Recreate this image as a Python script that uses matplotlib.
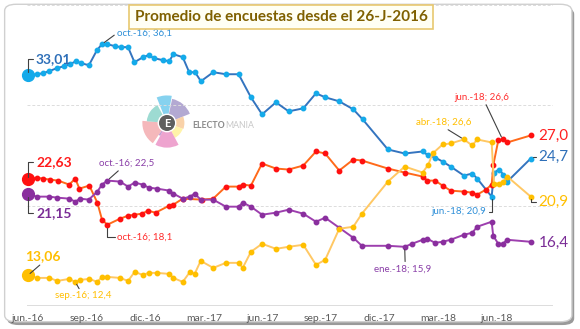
import numpy as np
import matplotlib
matplotlib.use('Agg')
import matplotlib.pyplot as plt
from matplotlib.patches import FancyBboxPatch, Wedge, Circle

plt.rcParams['font.family'] = ['Lato', 'DejaVu Sans']

# =============================================================================
# Data (x = months since jun.-16, y = % vote estimate)
# =============================================================================
tick_labels = ['jun.-16', 'sep.-16', 'dic.-16', 'mar.-17', 'jun.-17',
               'sep.-17', 'dic.-17', 'mar.-18', 'jun.-18']
tick_months = [0, 3, 6, 9, 12, 15, 18, 21, 24]

pp_x = [0.0, 0.46, 0.77, 1.07, 1.48, 1.84, 2.15, 2.46, 2.71, 3.12, 3.53, 3.79,
        4.04, 4.45, 4.76, 5.12, 5.45, 5.89, 6.17, 6.45, 6.91, 7.23, 7.44, 7.92,
        8.25, 8.55, 8.85, 9.48, 10.13, 10.78, 11.41, 11.98, 12.69, 13.34, 14.09,
        14.74, 15.21, 15.93, 16.65, 17.13, 18.42, 19.28, 20.20, 20.49, 20.83,
        21.22, 21.63, 22.31, 22.74, 22.99, 23.73, 23.85, 24.12, 24.32, 24.53,
        25.73]
pp_y = [33.01, 33.1, 33.2, 33.4, 33.7, 33.9, 34.1, 34.4, 34.2, 34.0, 35.5, 36.1,
        36.1, 35.9, 35.8, 35.8, 34.3, 34.8, 35.0, 34.7, 34.5, 34.4, 35.1, 34.8,
        33.3, 33.3, 32.4, 33.3, 33.1, 33.1, 30.8, 29.1, 30.3, 29.4, 29.7,
        31.2, 30.8, 30.4, 29.6, 28.6, 25.6, 25.2, 25.4, 25.0, 24.8,
        24.4, 23.9, 23.0, 23.2, 22.7, 20.9, 23.3, 23.6, 23.1, 22.4,
        24.7]

psoe_x = [0.0, 0.45, 0.75, 1.13, 1.54, 2.11, 2.42, 2.63, 3.14, 3.55, 3.79, 4.06,
          4.71, 5.12, 5.45, 5.83, 6.14, 6.53, 7.23, 7.44, 7.92, 8.90, 9.48,
          10.13, 10.78, 11.00, 11.41, 11.98, 12.69, 13.34, 14.09, 14.74, 15.21,
          15.93, 16.65, 17.09, 18.42, 19.28, 20.20, 20.44, 20.83, 21.22, 21.63,
          22.31, 22.74, 22.99, 23.44, 23.73, 23.82, 24.07, 24.29, 24.53, 25.73]
psoe_y = [22.63, 22.8, 22.7, 22.6, 22.5, 22.1, 22.7, 21.7, 22.0, 20.3, 18.6, 18.1,
          18.7, 19.0, 19.1, 19.2, 19.5, 19.3, 20.0, 20.1, 20.7, 20.6, 20.7,
          21.9, 21.9, 22.1, 22.0, 24.2, 23.7, 23.6, 24.0, 25.4, 25.2,
          23.5, 24.6, 24.5, 23.7, 23.3, 22.9, 22.5, 22.5, 22.0, 21.5,
          21.4, 21.3, 21.1, 21.6, 22.1, 24.1, 26.5, 26.6, 26.3, 27.0]

up_x = [0.0, 0.45, 1.09, 1.50, 2.11, 2.42, 2.66, 3.11, 3.55, 3.79, 4.06, 4.71,
        5.12, 5.46, 5.87, 6.18, 6.59, 7.23, 7.44, 7.92, 8.29, 8.53, 8.84, 9.48,
        10.13, 10.78, 10.99, 11.41, 11.98, 12.69, 13.34, 14.09, 14.74, 15.21,
        15.93, 16.65, 17.09, 18.42, 19.28, 19.65, 20.20, 20.44, 20.83, 21.22,
        21.63, 22.31, 22.74, 22.99, 23.73, 23.81, 24.07, 24.29, 24.53, 25.73]
up_y = [21.15, 20.9, 20.9, 20.8, 20.7, 20.4, 20.7, 20.6, 21.4, 22.1, 22.5, 22.4,
        21.9, 22.3, 22.1, 21.8, 21.7, 21.5, 21.2, 20.7, 20.9, 21.2, 20.6, 20.6,
        19.9, 19.9, 20.3, 19.9, 19.1, 19.3, 19.6, 19.2, 18.4, 18.8,
        17.8, 16.8, 16.0, 16.0, 15.9, 16.2, 16.6, 16.7, 16.3, 16.4,
        16.6, 17.1, 17.3, 17.9, 18.4, 17.0, 16.2, 16.2, 16.6, 16.4]

cs_x = [0.0, 0.45, 1.09, 1.50, 2.11, 2.42, 2.66, 3.14, 3.55, 3.79, 4.06, 4.71,
        5.12, 5.46, 5.87, 6.18, 6.59, 7.23, 7.44, 7.92, 8.29, 8.53, 8.84, 9.48,
        10.13, 10.78, 10.99, 11.41, 11.98, 12.69, 13.34, 14.09, 14.74, 15.21,
        15.93, 16.65, 17.09, 18.42, 19.28, 20.20, 20.49, 20.71, 21.22, 21.63,
        22.31, 22.74, 22.99, 23.73, 23.85, 24.12, 24.32, 24.53, 25.73]
cs_y = [13.06, 12.8, 12.8, 12.5, 12.7, 12.4, 12.6, 12.7, 12.4, 12.9, 12.9, 12.8,
        12.5, 13.4, 13.1, 13.3, 13.3, 13.2, 12.8, 12.4, 13.4, 13.2, 14.5, 13.8,
        14.3, 14.3, 13.8, 15.4, 16.2, 15.7, 15.9, 16.1, 14.1, 14.6,
        17.7, 17.9, 19.2, 22.4, 23.9, 23.3, 24.1, 25.2, 26.1, 26.2,
        26.6, 26.0, 26.6, 26.3, 22.2, 22.2, 22.4, 22.9, 20.9]

# =============================================================================
# Figure
# =============================================================================
fig = plt.figure(figsize=(5.8, 3.29), dpi=100)
fig.patch.set_facecolor('white')

# outer frame with shadow
shadow = FancyBboxPatch((0.012, 0.012), 0.978, 0.965, boxstyle='round,pad=0,rounding_size=0.02',
                        transform=fig.transFigure, facecolor='#9a9a9a', edgecolor='none', zorder=-2)
frame = FancyBboxPatch((0.008, 0.022), 0.978, 0.965, boxstyle='round,pad=0,rounding_size=0.02',
                       transform=fig.transFigure, facecolor='white', edgecolor='#d0d0d0',
                       lw=1.0, zorder=-1)
fig.patches.extend([shadow, frame])

ax = fig.add_axes([27 / 580, 1 - 306 / 329, 526 / 580, 301 / 329])
ax.set_facecolor('none')
ax.set_zorder(2)
ax.set_xlim(-0.05, 26.87)
ax.set_ylim(10, 40)
for s in ax.spines.values():
    s.set_visible(False)
ax.set_yticks([])
for g in [20, 30, 40]:
    ax.axhline(g, color='#dcdcdc', lw=0.7, ls=(0, (3, 2)), zorder=1)
ax.axhline(10, color='#d9d9d9', lw=2, zorder=1)
ax.set_xticks(tick_months)
ax.set_xticklabels(tick_labels, fontsize=7.5, color='#595959')
ax.tick_params(axis='x', length=0, pad=6)

series = [
    (pp_x, pp_y, '#3474bf', '#14aaea'),
    (psoe_x, psoe_y, '#ff6a1a', '#ff1010'),
    (up_x, up_y, '#9d3fae', '#8a2f9e'),
    (cs_x, cs_y, '#ffc864', '#ffbf00'),
]
for xs, ys, lc, mc in series:
    ax.plot(xs, ys, color=lc, lw=1.4, marker='o', ms=3.2, mfc=mc, mec=mc, zorder=3,
            clip_on=False)
    ax.plot(xs[0], ys[0], 'o', ms=8.5, color=mc, zorder=4, clip_on=False)

lead = dict(arrowstyle='-', color='#404040', lw=0.8, shrinkA=0, shrinkB=2)


def note(x, y, txt, dx, dy, color, size=7, weight='normal', ha='left',
         rel=(0, 0.5), conn='arc3', line=True):
    ap = dict(lead, relpos=rel, connectionstyle=conn) if line else None
    ax.annotate(txt, xy=(x, y), xytext=(dx, dy), textcoords='offset pixels',
                fontsize=size, color=color, fontweight=weight, ha=ha, va='center',
                arrowprops=ap, zorder=5, annotation_clip=False)


elbow = 'angle,angleA=0,angleB=90,rad=0'
# start values
note(pp_x[0], pp_y[0], '33,01', 8, 16, '#2e6fb8', 10, 'bold', rel=(0, 0.5), conn=elbow)
note(psoe_x[0], psoe_y[0], '22,63', 8, 17, '#ff1a1a', 10, 'bold', rel=(0, 0.5), conn=elbow)
note(up_x[0], up_y[0], '21,15', 8, -19, '#7a2c96', 10, 'bold', rel=(0, 0.5), conn=elbow)
note(cs_x[0], cs_y[0], '13,06', 15, 19, '#ffbf00', 10, 'bold', ha='center', rel=(0.5, 0))

# highlights
note(pp_x[11], pp_y[11], 'oct.-16; 36,1', 15, 11, '#2e8fd8', rel=(0, 0.5))
note(up_x[10], up_y[10], 'oct.-16; 22,5', -8, 17, '#8a3fa8', rel=(0.4, 0))
note(psoe_x[11], psoe_y[11], 'oct.-16; 18,1', 10, -12, '#ff2a2a', rel=(0, 0.5), conn=elbow)
note(cs_x[5], cs_y[5], 'sep.-16; 12,4', -20, -14, '#ffbf00', rel=(0.45, 1))
note(cs_x[44], cs_y[44], 'abr.-18; 26,6', -48, 17, '#ffbf00', rel=(0.5, 0))
note(psoe_x[50], psoe_y[50], 'jun.-18; 26,6', -48, 42, '#ff3030', rel=(0.55, 0))
note(pp_x[50], pp_y[50], 'jun.-18; 20,9', -60, -15, '#2e8fd8', rel=(1, 0.5), conn=elbow)
note(up_x[38], up_y[38], 'ene.-18; 15,9', -31, -22, '#8a3fa8', rel=(0.55, 1))

# end values
note(psoe_x[-1], psoe_y[-1], '27,0', 8, 0, '#ff2020', 11, line=False)
note(pp_x[-1], pp_y[-1], '24,7', 8, 2, '#2e6fb8', 11, rel=(0, 0.5), conn=elbow)
note(cs_x[-1], cs_y[-1], '20,9', 8, -5, '#ffbf00', 11, rel=(0, 0.5), conn=elbow)
note(up_x[-1], up_y[-1], '16,4', 8, -1, '#7a2c96', 11, line=False)

# title box
fig.text(281 / 580, 1 - 17 / 329, 'Promedio de encuestas desde el 26-J-2016',
         ha='center', va='center', fontsize=11, fontweight='bold', color='#7f6000',
         bbox=dict(boxstyle='square,pad=0.35', fc='#fffff4', ec='#e8c870', lw=1.2), zorder=10)

# electomania watermark
lax = fig.add_axes([138 / 580, 1 - 152 / 329, 58 / 580, 58 / 329])
lax.set_zorder(1)
lax.set_xlim(-1, 1)
lax.set_ylim(-1, 1)
lax.set_aspect('equal')
lax.axis('off')
petals = [(80, 112, 0.95, '#5ec3ea'), (22, 78, 0.85, '#9a8cc4'), (-20, 22, 0.6, '#f7c38c'),
          (-62, -20, 0.58, '#fff08c'), (-118, -62, 0.85, '#e986c0'), (175, 235, 0.85, '#f2a0a4'),
          (118, 175, 0.7, '#7ccfc4'), (235, 242, 0.5, '#b27cc4')]
for a0, a1, r, c in petals:
    lax.add_patch(Wedge((0, 0), r, a0, a1, fc=c, ec='none', alpha=0.75))
lax.add_patch(Circle((0, 0), 0.3, fc='#5f5f5f', ec='white', lw=1))
lax.text(0, 0, 'E', ha='center', va='center', color='white', fontsize=8, fontweight='bold')
fig.text(192 / 580, 1 - 126 / 329, 'ELECTO', ha='left', va='center', fontsize=6.3,
         fontweight='bold', color='#8a8a8a')
fig.text(225 / 580, 1 - 126 / 329, 'MANIA', ha='left', va='center', fontsize=6.3,
         color='#c8c8c8')

plt.savefig('out.png', dpi=100)
